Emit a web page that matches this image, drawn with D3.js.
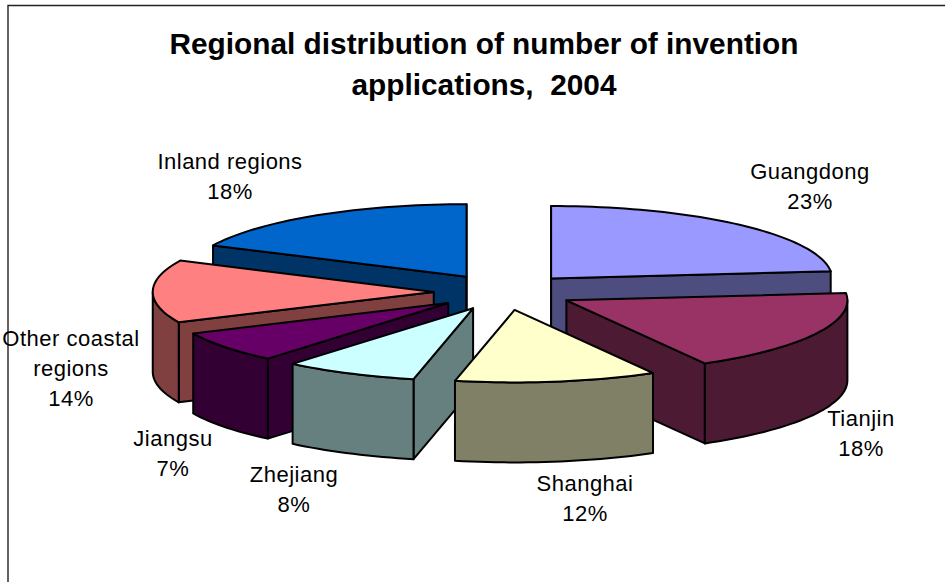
<!DOCTYPE html>
<html>
<head>
<meta charset="utf-8">
<script src="https://cdn.jsdelivr.net/npm/d3@7"></script>
<style>
  html, body { margin: 0; padding: 0; background: #fff; overflow: hidden; }
  svg { display: block; }
  text { font-family: "Liberation Sans", Arial, sans-serif; fill: #000; text-anchor: middle; }
</style>
</head>
<body>
<svg width="945" height="582"></svg>
<script>
// Chart data
const regions = ['Guangdong', 'Tianjin', 'Shanghai', 'Zhejiang', 'Jiangsu', 'Other coastal regions', 'Inland regions'];
const shares = [23.4, 18.4, 11.6, 7.7, 7.0, 14.0, 17.9];
const topColors = ['#9999ff', '#993366', '#ffffcc', '#ccffff', '#660066', '#ff8080', '#0066cc'];
const sideColors = ['#4d4d80', '#4d1a33', '#808066', '#668080', '#330033', '#804040', '#003366'];
const titleLines = ['Regional distribution of number of invention', 'applications,  2004'];

// Label layout: centre x and first baseline, one row per region
const labelAnchors = [[810, 179], [861, 426], [585, 491], [294, 482], [173, 446], [71, 346], [230, 169]];
const labelLines = [['Guangdong'], ['Tianjin'], ['Shanghai'], ['Zhejiang'], ['Jiangsu'], ['Other coastal', 'regions'], ['Inland regions']];

const svg = d3.select('svg');

// Chart frame runs off the right and bottom of the picture
svg.append('path')
  .attr('d', 'M8,590V5.5H950')
  .attr('fill', 'none')
  .attr('stroke', '#222')
  .attr('stroke-width', 1.4);

// Pie geometry: flat ellipse plus an extrusion depth
const cx = 504, cy = 292;
const rx = 281, ry = 72.5;
const depth = 80;
const explode = 0.25;

const radius = d3.scaleLinear().domain([0, 1]).range([0, 1]);
const project = (a, r, dx, dy) => [
  dx + rx * radius(r) * Math.sin(a),
  dy - ry * radius(r) * Math.cos(a)
];
const line = d3.line();

const slices = d3.pie().sort(null)(shares).map((s, i) => {
  const mid = (s.startAngle + s.endAngle) / 2;
  const [dx, dy] = project(mid, explode, cx, cy);
  return { i, a0: s.startAngle, a1: s.endAngle, mid, dx, dy };
});

// Points along the rim between two angles
function rim(a0, a1, dx, dy) {
  const n = Math.max(2, Math.ceil((a1 - a0) / 0.03));
  return d3.range(n + 1).map(k => project(a0 + (a1 - a0) * k / n, 1, dx, dy));
}

const lower = pts => pts.map(p => [p[0], p[1] + depth]);
const wall = pts => line(pts.concat(lower(pts).reverse())) + 'Z';

// Back slices first, so the nearer ones paint over them
const order = slices.slice().sort((a, b) => d3.descending(Math.cos(a.mid), Math.cos(b.mid)));

const g = svg.selectAll('g.slice').data(order).enter().append('g').attr('class', 'slice');

g.each(function(d) {
  const el = d3.select(this);
  const apex = [d.dx, d.dy];
  const p0 = project(d.a0, 1, d.dx, d.dy);
  const p1 = project(d.a1, 1, d.dx, d.dy);

  // A radial wall shows only if the rest of the slice lies above its top edge
  [[p0, p1], [p1, p0]].forEach(([edge, other]) => {
    const cross = (edge[0] - apex[0]) * (other[1] - apex[1]) - (edge[1] - apex[1]) * (other[0] - apex[0]);
    const above = edge[0] > apex[0] ? cross < 0 : cross > 0;
    if (above) {
      el.append('path').attr('d', wall([apex, edge]))
        .attr('fill', sideColors[d.i]).attr('stroke', '#000').attr('stroke-width', 2)
        .attr('stroke-linejoin', 'round');
    }
  });

  // Outer wall, only the part that faces the viewer
  const from = Math.max(d.a0, Math.PI / 2);
  const to = Math.min(d.a1, Math.PI * 1.5);
  if (to > from) {
    el.append('path').attr('d', wall(rim(from, to, d.dx, d.dy)))
      .attr('fill', sideColors[d.i]).attr('stroke', '#000').attr('stroke-width', 2)
      .attr('stroke-linejoin', 'round');
  }

  // Top face
  el.append('path').attr('d', line([apex].concat(rim(d.a0, d.a1, d.dx, d.dy))) + 'Z')
    .attr('fill', topColors[d.i]).attr('stroke', '#000').attr('stroke-width', 2)
    .attr('stroke-linejoin', 'round');
});

// Title
svg.selectAll('text.title').data(titleLines).enter().append('text')
  .attr('class', 'title')
  .attr('x', 484)
  .attr('y', (d, i) => 54 + i * 41)
  .attr('font-size', 29.8)
  .attr('font-weight', 'bold')
  .attr('xml:space', 'preserve')
  .style('white-space', 'pre')
  .text(d => d);

// Data labels: name line(s) then the rounded share
regions.forEach((name, i) => {
  const rows = labelLines[i].concat(d3.format('.0f')(shares[i]) + '%');
  const [x, y] = labelAnchors[i];
  svg.selectAll(null).data(rows).enter().append('text')
    .attr('class', 'label')
    .attr('x', x)
    .attr('y', (d, k) => y + k * 30)
    .attr('font-size', 22)
    .attr('letter-spacing', 0.5)
    .text(d => d);
});
</script>
</body>
</html>
